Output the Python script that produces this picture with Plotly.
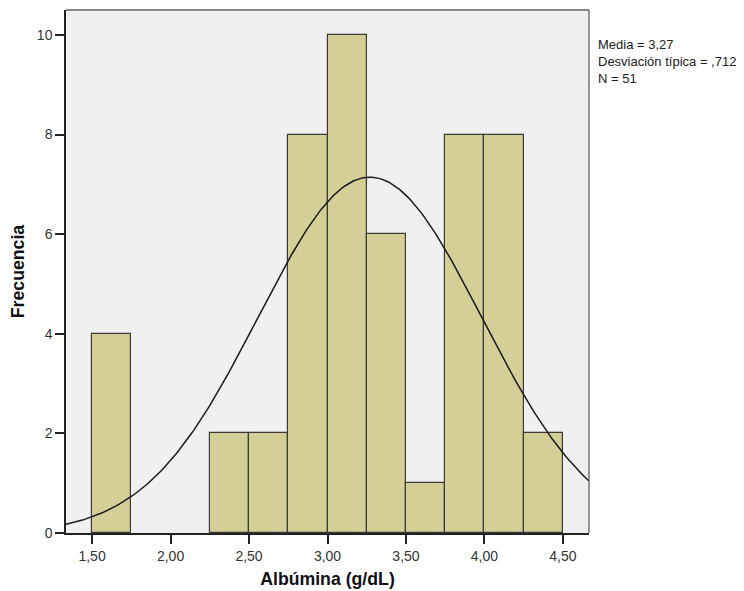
import numpy as np
import plotly.graph_objects as go

# Data
bin_left = [1.50, 1.75, 2.00, 2.25, 2.50, 2.75, 3.00, 3.25, 3.50, 3.75, 4.00, 4.25]
counts = [4, 0, 0, 2, 2, 8, 10, 6, 1, 8, 8, 2]
bin_width = 0.25
mean = 3.27
sd = 0.712
n = 51
x_tickvals = [1.5, 2.0, 2.5, 3.0, 3.5, 4.0, 4.5]
x_ticktext = ["1,50", "2,00", "2,50", "3,00", "3,50", "4,00", "4,50"]
y_tickvals = [0, 2, 4, 6, 8, 10]
stats_lines = ["Media = 3,27", "Desviación típica = ,712", "N = 51"]
x_range = [1.334, 4.666]
y_range = [0, 10.5]

bx = [b + bin_width / 2 for b, c in zip(bin_left, counts) if c > 0]
by = [c for c in counts if c > 0]

xs = np.linspace(x_range[0], x_range[1], 300)
ys = n * bin_width / (sd * np.sqrt(2 * np.pi)) * np.exp(-0.5 * ((xs - mean) / sd) ** 2)

fig = go.Figure()
fig.add_trace(go.Bar(x=bx, y=by, width=bin_width,
                     marker=dict(color="#D3CF97", line=dict(color="#3a3a3a", width=1.2)),
                     hoverinfo="x+y"))
fig.add_trace(go.Scatter(x=xs, y=ys, mode="lines",
                         line=dict(color="#1a1a1a", width=1.5), hoverinfo="skip"))

font = "Liberation Sans, Arial, sans-serif"
# page body has an 8px default margin; margins compensate so the plot area
# sits at x 66..589, y 10..533 in the window
plot_left, plot_right = 66, 589
plot_top, plot_bottom = 10, 533
ph = plot_bottom - plot_top
pw = plot_right - plot_left

fig.update_layout(
    width=744, height=591,
    margin=dict(l=58, r=163, t=2, b=66, autoexpand=False),
    paper_bgcolor="white", plot_bgcolor="#F0F0F0",
    showlegend=False, bargap=0,
    font=dict(family=font, size=14, color="#333"),
    xaxis=dict(range=x_range, tickvals=x_tickvals, ticktext=x_ticktext,
               ticks="outside", ticklen=9, tickcolor="#222", tickwidth=2,
               showline=True, linecolor="#222", linewidth=1.5,
               showgrid=False, zeroline=False, automargin=False,
               title=dict(text="<b>Albúmina (g/dL)</b>", font=dict(size=17.7, color="#111"), standoff=10),
               tickfont=dict(size=14, color="#333")),
    yaxis=dict(range=y_range, tickvals=y_tickvals,
               ticks="outside", ticklen=9, tickcolor="#222", tickwidth=2,
               showline=True, linecolor="#222", linewidth=1.5,
               showgrid=False, zeroline=False, automargin=False,
               title=dict(text="<b>Frecuencia</b>", font=dict(size=17.7, color="#111"), standoff=12),
               tickfont=dict(size=14, color="#333")),
    shapes=[
        dict(type="line", xref="paper", yref="paper", x0=0, x1=1, y0=1, y1=1,
             line=dict(color="#888", width=2)),
        dict(type="line", xref="paper", yref="paper", x0=1, x1=1, y0=0, y1=1,
             line=dict(color="#555", width=1.2)),
    ],
    annotations=[
        dict(xref="paper", yref="paper",
             x=(596 - plot_left) / pw, y=(plot_bottom - 35) / ph,
             xanchor="left", yanchor="top", align="left", showarrow=False,
             text="<br>".join(stats_lines),
             font=dict(size=13, color="#222", family=font))
    ],
)

fig.write_html("out.html")
